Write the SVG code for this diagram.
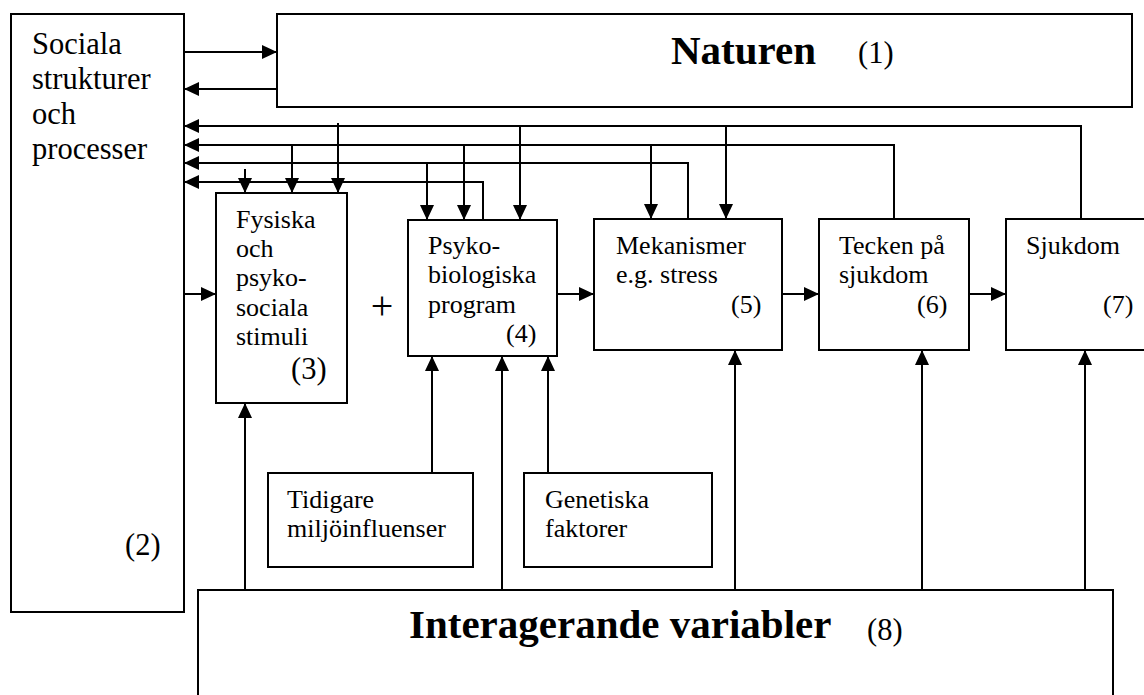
<svg xmlns="http://www.w3.org/2000/svg" width="1144" height="695" viewBox="0 0 1144 695" font-family="'Liberation Serif', 'Times New Roman', serif">
<style>
.box{fill:#fff;stroke:#000;stroke-width:2}
text{font-family:'Liberation Serif','Times New Roman',serif;fill:#000}
.t{font-size:26px}
.t14{font-size:30.5px}
.big{font-size:41px;font-weight:bold}
.c{fill:none;stroke:#000;stroke-width:2}
</style>
<defs>
<marker id="ah" markerUnits="userSpaceOnUse" markerWidth="15" markerHeight="14" refX="15" refY="7" orient="auto">
<path d="M0,0 L15,7 L0,14 z" fill="#000"/>
</marker>
</defs>
<rect width="1144" height="695" fill="#fff"/>
<g id="connectors">
<path class="c" d="M184,52 H277" marker-end="url(#ah)"/>
<path class="c" d="M277,89 H184" marker-end="url(#ah)"/>
<path class="c" d="M1081,219 V126 H184" marker-end="url(#ah)"/>
<path class="c" d="M894,219 V145 H184" marker-end="url(#ah)"/>
<path class="c" d="M688,219 V163 H184" marker-end="url(#ah)"/>
<path class="c" d="M483,220 V182 H184" marker-end="url(#ah)"/>
<path class="c" d="M245,169 V193" marker-end="url(#ah)"/>
<path class="c" d="M292,145 V193" marker-end="url(#ah)"/>
<path class="c" d="M338,123 V193" marker-end="url(#ah)"/>
<path class="c" d="M427,163 V220" marker-end="url(#ah)"/>
<path class="c" d="M464,145 V220" marker-end="url(#ah)"/>
<path class="c" d="M520,126 V220" marker-end="url(#ah)"/>
<path class="c" d="M651,145 V219" marker-end="url(#ah)"/>
<path class="c" d="M726,126 V219" marker-end="url(#ah)"/>
<path class="c" d="M184,294 H216" marker-end="url(#ah)"/>
<path class="c" d="M557,294 H594" marker-end="url(#ah)"/>
<path class="c" d="M782,294 H819" marker-end="url(#ah)"/>
<path class="c" d="M969,294 H1006" marker-end="url(#ah)"/>
<path class="c" d="M245,590 V403" marker-end="url(#ah)"/>
<path class="c" d="M432,473 V356" marker-end="url(#ah)"/>
<path class="c" d="M502,590 V356" marker-end="url(#ah)"/>
<path class="c" d="M548,473 V356" marker-end="url(#ah)"/>
<path class="c" d="M735,590 V350" marker-end="url(#ah)"/>
<path class="c" d="M922,590 V350" marker-end="url(#ah)"/>
<path class="c" d="M1085,590 V350" marker-end="url(#ah)"/>
</g>
<g id="sociala">
<rect class="box" x="11" y="14" width="173" height="598"/>
<text class="t14" x="32" y="54">Sociala</text>
<text class="t14" x="32" y="89">strukturer</text>
<text class="t14" x="32" y="124">och</text>
<text class="t14" x="32" y="159">processer</text>
<text class="t14" x="125" y="555">(2)</text>
</g>
<g id="naturen">
<rect class="box" x="277" y="14" width="855" height="93"/>
<text class="big" x="671" y="64">Naturen</text>
<text class="t14" x="858" y="63">(1)</text>
</g>
<g id="fysiska">
<rect class="box" x="216" y="193" width="131" height="210"/>
<text class="t" x="236" y="228">Fysiska</text>
<text class="t" x="236" y="257">och</text>
<text class="t" x="236" y="286">psyko-</text>
<text class="t" x="236" y="316">sociala</text>
<text class="t" x="236" y="345">stimuli</text>
<text class="t14" x="291" y="379">(3)</text>
</g>
<g id="plus">
<text x="382" y="319" text-anchor="middle" font-size="40">+</text>
</g>
<g id="psyko">
<rect class="box" x="408" y="220" width="149" height="136"/>
<text class="t" x="428" y="254">Psyko-</text>
<text class="t" x="428" y="283">biologiska</text>
<text class="t" x="428" y="313">program</text>
<text class="t" x="506" y="342">(4)</text>
</g>
<g id="mekanismer">
<rect class="box" x="594" y="219" width="188" height="131"/>
<text class="t" x="616" y="254">Mekanismer</text>
<text class="t" x="616" y="283">e.g. stress</text>
<text class="t" x="731" y="313">(5)</text>
</g>
<g id="tecken">
<rect class="box" x="819" y="219" width="150" height="131"/>
<text class="t" x="839" y="254">Tecken på</text>
<text class="t" x="839" y="283">sjukdom</text>
<text class="t" x="917" y="313">(6)</text>
</g>
<g id="sjukdom">
<rect class="box" x="1006" y="219" width="150" height="131"/>
<text class="t" x="1026" y="254">Sjukdom</text>
<text class="t" x="1103" y="313">(7)</text>
</g>
<g id="tidigare">
<rect class="box" x="268" y="473" width="205" height="94"/>
<text class="t" x="287" y="508">Tidigare</text>
<text class="t" x="287" y="537">miljöinfluenser</text>
</g>
<g id="genetiska">
<rect class="box" x="524" y="473" width="188" height="94"/>
<text class="t" x="545" y="508">Genetiska</text>
<text class="t" x="545" y="537">faktorer</text>
</g>
<g id="interagerande">
<rect class="box" x="198" y="590" width="915" height="120"/>
<text class="big" x="409" y="638">Interagerande variabler</text>
<text class="t14" x="867" y="640">(8)</text>
</g>
</svg>
